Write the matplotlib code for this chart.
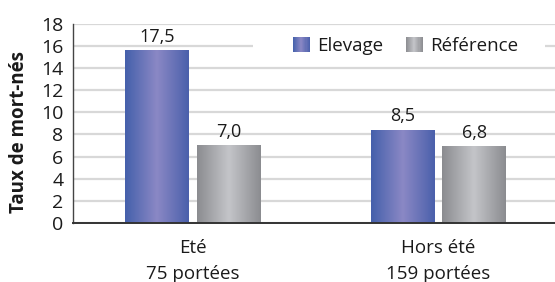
import numpy as np
import matplotlib

matplotlib.use("Agg")
import matplotlib.pyplot as plt
from matplotlib.colors import LinearSegmentedColormap
from matplotlib.legend_handler import HandlerBase
from matplotlib.patches import Rectangle

categories = ["Eté\n75 portées", "Hors été\n159 portées"]
series_names = ["Elevage", "Référence"]
elevage = [15.6, 8.4]          # bar heights as drawn
reference = [7.0, 6.9]
elevage_labels = ["17,5", "8,5"]  # printed values
reference_labels = ["7,0", "6,8"]
yticks = list(range(0, 19, 2))

plt.rcParams["font.family"] = ["Open Sans", "DejaVu Sans"]

BLUE = LinearSegmentedColormap.from_list("blue", ["#4460ab", "#8b88c5", "#4a60ab"])
GREY = LinearSegmentedColormap.from_list("grey", ["#8b8c90", "#c4c5c9", "#8b8c90"])
TEXT = "#1a1a1a"


def gradient_fill(ax, bars, cmap):
    """Replace flat bar fill with a horizontal edge-centre-edge gradient."""
    grad = np.linspace(0, 1, 256).reshape(1, -1)
    for bar in bars:
        x, y = bar.get_x(), bar.get_y()
        w, h = bar.get_width(), bar.get_height()
        ax.imshow(grad, cmap=cmap, aspect="auto", interpolation="bicubic",
                  extent=(x, x + w, y, y + h), zorder=2)
        bar.set_facecolor("none")


class GradientHandler(HandlerBase):
    def __init__(self, cmap):
        super().__init__()
        self.cmap = cmap

    def create_artists(self, legend, orig_handle, xdescent, ydescent,
                       width, height, fontsize, trans):
        n = 16
        out = []
        for i in range(n):
            out.append(Rectangle(
                (-xdescent + width * i / n, -ydescent), width / n * 1.08, height,
                facecolor=self.cmap((i + 0.5) / n), edgecolor="none",
                transform=trans))
        return out


fig = plt.figure(figsize=(5.55, 2.82), dpi=100)
ax = fig.add_axes([0.1315, 0.21, 0.8685, 0.705])

x = np.arange(len(categories))
width = 0.26
offset = 0.146
b1 = ax.bar(x - offset, elevage, width, color="#6070b5", zorder=2)
b2 = ax.bar(x + offset, reference, width, color="#a8a9ad", zorder=2)
gradient_fill(ax, b1, BLUE)
gradient_fill(ax, b2, GREY)

ax.bar_label(b1, labels=elevage_labels, padding=3.5, fontsize=13, color=TEXT)
ax.bar_label(b2, labels=reference_labels, padding=3.5, fontsize=13, color=TEXT)

ax.set_xlim(-0.49, 1.475)
ax.set_ylim(0, 18)
ax.set_yticks(yticks)
ax.set_xticks(x)
ax.set_xticklabels(categories, fontsize=13.5, color=TEXT, linespacing=1.55)
ax.tick_params(axis="y", length=0, pad=7, labelsize=14, labelcolor=TEXT)
ax.tick_params(axis="x", length=0, pad=12)

ax.grid(axis="y", color="#d8d8d8", linewidth=1.6, zorder=0)
ax.set_axisbelow(True)
for side in ("top", "right"):
    ax.spines[side].set_visible(False)
ax.spines["left"].set_color("#444444")
ax.spines["bottom"].set_color("#333333")
ax.spines["left"].set_linewidth(1.0)
ax.spines["bottom"].set_linewidth(1.4)

ax.set_ylabel("Taux de mort-nés", fontsize=13.5, fontweight="bold", color=TEXT)
ax.yaxis.set_label_coords(-0.092, 0.455)

# white band behind the legend hides the 16 gridline
ax.add_patch(Rectangle((0.373, 0.834), 0.606, 0.111, transform=ax.transAxes,
                       facecolor="white", edgecolor="none", zorder=1.5))

h1 = Rectangle((0, 0), 1, 1)
h2 = Rectangle((0, 0), 1, 1)
ax.legend([h1, h2], series_names,
          handler_map={h1: GradientHandler(BLUE), h2: GradientHandler(GREY)},
          loc="center", bbox_to_anchor=(0.69, 0.889), ncol=2, frameon=False,
          fontsize=13.5, handlelength=0.9, handleheight=0.85, handletextpad=0.4,
          columnspacing=1.2, labelcolor=TEXT)

fig.savefig("out.png", dpi=100)
